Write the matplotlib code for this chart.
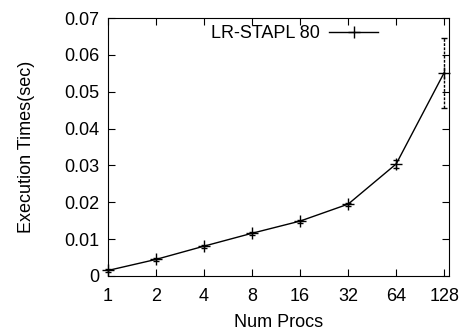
import matplotlib
matplotlib.use('Agg')
import matplotlib.pyplot as plt
from matplotlib.lines import Line2D
import numpy as np

plt.rcParams['font.family'] = ['Liberation Sans', 'DejaVu Sans']

# 資料
procs = ['1', '2', '4', '8', '16', '32', '64', '128']
times = [0.0015, 0.0045, 0.0081, 0.0116, 0.0149, 0.0195, 0.0304, 0.0552]
err_low = [0.0003, 0.0004, 0.0004, 0.0004, 0.0004, 0.0004, 0.0011, 0.0095]
err_high = [0.0003, 0.0004, 0.0004, 0.0004, 0.0004, 0.0004, 0.0011, 0.0095]

fig = plt.figure(figsize=(4.62, 3.33), dpi=100)
ax = fig.add_axes([0.2338, 0.1712, 0.7381, 0.7747])

x = np.arange(len(procs))
line, caps, bars = ax.errorbar(x, times, yerr=[err_low, err_high], color='black', lw=1,
                               marker='+', markersize=9, mew=1, capsize=2, elinewidth=1)
bars[0].set_linestyle((0, (2, 1)))
for a in [line, *caps, *bars]:
    a.set_clip_on(False)

ax.set_xlim(0, len(procs) - 0.9)
ax.set_ylim(0, 0.07)
ax.set_xticks(x)
ax.set_xticklabels(procs)
ax.set_yticks(np.arange(0, 0.071, 0.01))
ax.set_yticklabels(['0', '0.01', '0.02', '0.03', '0.04', '0.05', '0.06', '0.07'])
ax.tick_params(direction='in', top=True, right=True, length=5, labelsize=13)
ax.tick_params(axis='x', pad=9)
ax.tick_params(axis='y', pad=6)
ax.set_xlabel('Num Procs', fontsize=13, labelpad=6)
ax.set_ylabel('Execution Times(sec)', fontsize=13, labelpad=21)

handle = Line2D([], [], color='black', lw=1, marker='+', markersize=9, mew=1)
ax.legend([handle], ['LR-STAPL 80'], loc='upper right', bbox_to_anchor=(0.84, 1.035),
          frameon=False, fontsize=13, markerfirst=False, handlelength=2.7,
          handletextpad=0.55)

plt.savefig('out.png', dpi=100)
